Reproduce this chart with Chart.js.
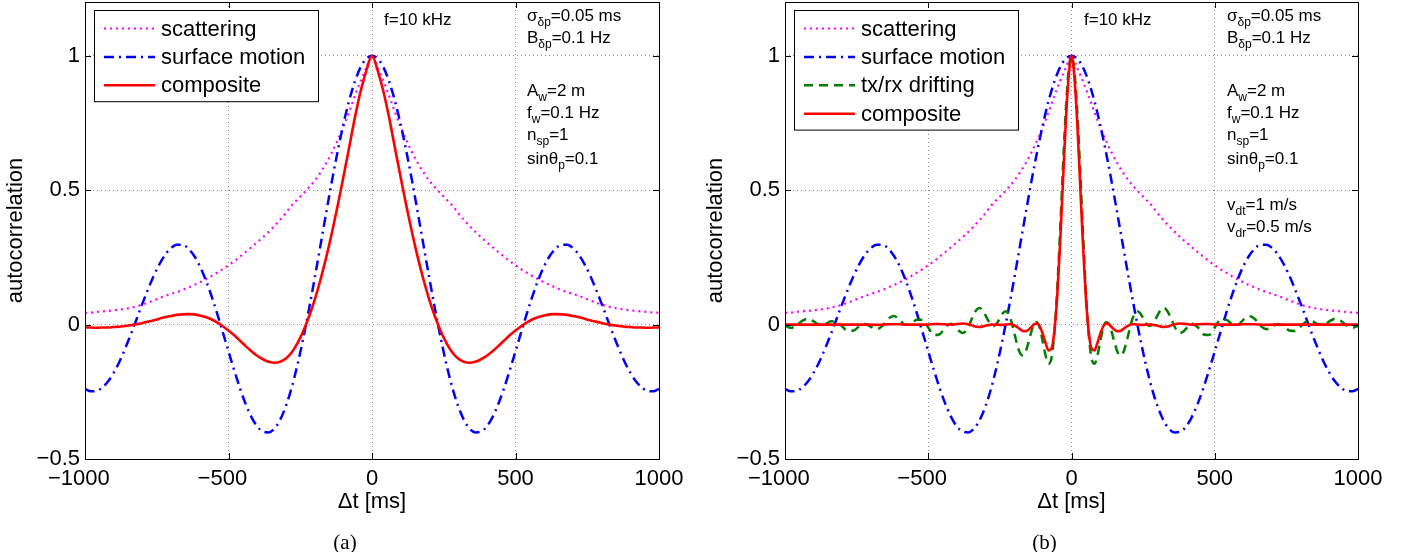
<!DOCTYPE html>
<html>
<head>
<meta charset="utf-8">
<script src="https://cdn.jsdelivr.net/npm/chart.js@4.4.1/dist/chart.umd.min.js"></script>
<style>
  html, body { margin: 0; padding: 0; background: #fff; }
  #wrap { position: relative; width: 1408px; height: 552px; }
  .panel { position: absolute; top: 0; width: 704px; height: 552px; }
</style>
</head>
<body>
<div id="wrap">
  <div class="panel" style="left:0"><canvas id="chartA" width="704" height="552"></canvas></div>
  <div class="panel" style="left:704px"><canvas id="chartB" width="704" height="552"></canvas></div>
</div>
<script>
// time lags [ms], 20 ms steps
const timeA = [-1000,-980,-960,-940,-920,-900,-880,-860,-840,-820,-800,-780,-760,-740,-720,-700,-680,-660,-640,-620,
  -600,-580,-560,-540,-520,-500,-480,-460,-440,-420,-400,-380,-360,-340,-320,-300,-280,-260,-240,-220,
  -200,-180,-160,-140,-120,-100,-80,-60,-40,-20,0,20,40,60,80,100,120,140,160,180,
  200,220,240,260,280,300,320,340,360,380,400,420,440,460,480,500,520,540,560,580,
  600,620,640,660,680,700,720,740,760,780,800,820,840,860,880,900,920,940,960,980,1000];

const scattering = [0.044,0.045,0.047,0.049,0.051,0.053,0.056,0.059,0.063,0.068,0.074,0.082,0.090,0.099,0.107,0.114,0.121,0.129,0.138,0.147,
  0.157,0.168,0.180,0.193,0.206,0.221,0.236,0.253,0.270,0.288,0.306,0.325,0.345,0.367,0.390,0.415,0.443,0.465,0.487,0.510,
  0.535,0.565,0.600,0.640,0.685,0.735,0.790,0.850,0.905,0.955,1.000,0.955,0.905,0.850,0.790,0.735,0.685,0.640,0.600,0.565,
  0.535,0.510,0.487,0.465,0.443,0.415,0.390,0.367,0.345,0.325,0.306,0.288,0.270,0.253,0.236,0.221,0.206,0.193,0.180,0.168,
  0.157,0.147,0.138,0.129,0.121,0.114,0.107,0.099,0.090,0.082,0.074,0.068,0.063,0.059,0.056,0.053,0.051,0.049,0.047,0.045,0.044];

const surfaceMotion = [-0.239,-0.248,-0.247,-0.234,-0.212,-0.179,-0.138,-0.089,-0.036,0.021,0.078,0.132,0.183,0.226,0.261,0.285,0.297,0.297,0.283,0.256,
  0.218,0.168,0.109,0.043,-0.028,-0.100,-0.170,-0.237,-0.296,-0.344,-0.379,-0.398,-0.401,-0.387,-0.354,-0.303,-0.235,-0.151,-0.053,0.055,
  0.171,0.292,0.413,0.532,0.643,0.744,0.832,0.903,0.957,0.989,1.000,0.989,0.957,0.903,0.832,0.744,0.643,0.532,0.413,0.292,
  0.171,0.055,-0.053,-0.151,-0.235,-0.303,-0.354,-0.387,-0.401,-0.398,-0.379,-0.344,-0.296,-0.237,-0.170,-0.100,-0.028,0.043,0.109,0.168,
  0.218,0.256,0.283,0.297,0.297,0.285,0.261,0.226,0.183,0.132,0.078,0.021,-0.036,-0.089,-0.138,-0.179,-0.212,-0.234,-0.247,-0.248,-0.239];

const compositeA = [-0.011,-0.011,-0.012,-0.011,-0.011,-0.009,-0.008,-0.005,-0.002,0.001,0.006,0.011,0.016,0.022,0.028,0.032,0.036,0.038,0.039,0.038,
  0.034,0.028,0.020,0.008,-0.006,-0.022,-0.040,-0.060,-0.080,-0.099,-0.116,-0.129,-0.138,-0.142,-0.138,-0.126,-0.104,-0.070,-0.026,0.028,
  0.091,0.165,0.248,0.340,0.440,0.547,0.657,0.768,0.866,0.944,1.000,0.944,0.866,0.768,0.657,0.547,0.440,0.340,0.248,0.165,
  0.091,0.028,-0.026,-0.070,-0.104,-0.126,-0.138,-0.142,-0.138,-0.129,-0.116,-0.099,-0.080,-0.060,-0.040,-0.022,-0.006,0.008,0.020,0.028,
  0.034,0.038,0.039,0.038,0.036,0.032,0.028,0.022,0.016,0.011,0.006,0.001,-0.002,-0.005,-0.008,-0.009,-0.011,-0.011,-0.012,-0.011,-0.011];

// finer lags for the fast curves of panel (b): 20 ms outside, 10 ms within +-400
const timeB = [-1000,-980,-960,-940,-920,-900,-880,-860,-840,-820,-800,-780,-760,-740,-720,-700,-680,-660,-640,-620,
  -600,-580,-560,-540,-520,-500,-480,-460,-440,-420,
  -400,-390,-380,-370,-360,-350,-340,-330,-320,-310,-300,-290,-280,-270,-260,-250,-240,-230,-220,-210,
  -200,-190,-180,-170,-160,-150,-140,-130,-120,-110,-100,-90,-80,-70,-60,-50,-40,-30,-20,-10,0,
  10,20,30,40,50,60,70,80,90,100,110,120,130,140,150,160,170,180,190,200,
  210,220,230,240,250,260,270,280,290,300,310,320,330,340,350,360,370,380,390,400,
  420,440,460,480,500,520,540,560,580,600,620,640,660,680,700,720,740,760,780,800,
  820,840,860,880,900,920,940,960,980,1000];

const drifting = [-0.005,-0.012,-0.003,0.014,0.022,0.012,0.000,0.001,0.012,0.011,-0.007,-0.024,-0.022,-0.006,0.002,-0.008,-0.017,-0.005,0.021,0.032,
  0.018,-0.001,0.002,0.018,0.018,-0.011,-0.039,-0.036,-0.009,0.003,
  -0.015,-0.026,-0.031,-0.025,-0.008,0.016,0.040,0.057,0.062,0.053,0.034,0.014,-0.002,-0.005,0.005,0.024,0.042,0.050,0.041,0.012,
  -0.030,-0.073,-0.105,-0.115,-0.100,-0.066,-0.026,0.004,0.009,-0.016,-0.065,-0.117,-0.146,-0.125,-0.034,0.127,0.344,0.581,0.796,0.946,1.000,
  0.946,0.796,0.581,0.344,0.127,-0.034,-0.125,-0.146,-0.117,-0.065,-0.016,0.009,0.004,-0.026,-0.066,-0.100,-0.115,-0.105,-0.073,-0.030,
  0.012,0.041,0.050,0.042,0.024,0.005,-0.005,-0.002,0.014,0.034,0.053,0.062,0.057,0.040,0.016,-0.008,-0.025,-0.031,-0.026,-0.015,
  0.003,-0.009,-0.036,-0.039,-0.011,0.018,0.018,0.002,-0.001,0.018,0.032,0.021,-0.005,-0.017,-0.008,0.002,-0.006,-0.022,-0.024,-0.007,
  0.011,0.012,0.001,0.000,0.012,0.022,0.014,-0.003,-0.012,-0.005];

const compositeB = [0,0,0,0,0,0,0,0,0,0,0,0,0,0,0,0,-0.001,0,0.001,0.001,
  0.001,0,0,0,0,0,0.002,0.002,0.001,0,
  0.002,0.003,0.004,0.003,0.001,-0.002,-0.006,-0.008,-0.009,-0.007,-0.004,-0.002,0,0,0,-0.001,-0.001,0,0.001,0.001,
  -0.003,-0.009,-0.017,-0.024,-0.025,-0.019,-0.009,0.002,0.004,-0.008,-0.036,-0.070,-0.096,-0.089,-0.026,0.104,0.298,0.527,0.752,0.922,1.000,
  0.922,0.752,0.527,0.298,0.104,-0.026,-0.089,-0.096,-0.070,-0.036,-0.008,0.004,0.002,-0.009,-0.019,-0.025,-0.024,-0.017,-0.009,-0.003,
  0.001,0.001,0,-0.001,-0.001,0,0,0,-0.002,-0.004,-0.007,-0.009,-0.008,-0.006,-0.002,0.001,0.003,0.004,0.003,0.002,
  0,0.001,0.002,0.002,0,0,0,0,0,0.001,0.001,0.001,0,-0.001,0,0,0,0,0,0,
  0,0,0,0,0,0,0,0,0,0];

const xTicks = [-1000, -500, 0, 500, 1000];
const yTicks = [-0.5, 0, 0.5, 1];

const SANS = "'Liberation Sans', Arial, Helvetica, sans-serif";
const SERIF = "'Liberation Serif', 'Times New Roman', serif";

const styles = {
  scattering: { label: 'scattering', color: '#ff00ff', dash: [2, 4], width: 2.2 },
  surface: { label: 'surface motion', color: '#0000ff', dash: [10, 5, 2, 5], width: 2.5 },
  drifting: { label: 'tx/rx drifting', color: '#008000', dash: [9, 6], width: 2.5 },
  composite: { label: 'composite', color: '#ff0000', dash: [], width: 2.6 }
};

function series(xs, ys, st, order) {
  return {
    label: st.label,
    data: xs.map((x, i) => ({ x: x, y: ys[i] })),
    borderColor: st.color,
    borderDash: st.dash,
    borderWidth: st.width,
    order: order,
    fill: false,
    pointRadius: 0,
    cubicInterpolationMode: 'monotone'
  };
}

function fmt(v) {
  const s = String(Math.abs(v));
  return v < 0 ? '\u2212' + s : s;
}

function drawParts(ctx, x, y, parts) {
  let cx = x;
  parts.forEach(p => {
    const sub = p[1];
    ctx.font = sub ? '12px ' + SANS : '17px ' + SANS;
    ctx.fillText(p[0], cx, sub ? y + 7 : y);
    cx += ctx.measureText(p[0]).width;
  });
}

const decorPlugin = {
  id: 'decor',
  afterDatasetsDraw(chart, args, opts) {
    const ctx = chart.ctx;
    const a = chart.chartArea;
    const xs = chart.scales.x, ys = chart.scales.y;
    ctx.save();
    ctx.strokeStyle = '#000';
    ctx.lineWidth = 1;
    ctx.setLineDash([]);
    // inward tick marks
    ctx.beginPath();
    xTicks.forEach(v => {
      const px = Math.round(xs.getPixelForValue(v)) + 0.5;
      ctx.moveTo(px, a.bottom); ctx.lineTo(px, a.bottom - 6);
      ctx.moveTo(px, a.top); ctx.lineTo(px, a.top + 6);
    });
    yTicks.forEach(v => {
      const py = Math.round(ys.getPixelForValue(v)) + 0.5;
      ctx.moveTo(a.left, py); ctx.lineTo(a.left + 6, py);
      ctx.moveTo(a.right, py); ctx.lineTo(a.right - 6, py);
    });
    ctx.stroke();
    ctx.strokeRect(Math.round(a.left) + 0.5, Math.round(a.top) + 0.5,
      Math.round(a.right - a.left), Math.round(a.bottom - a.top));

    // legend box
    const rows = opts.legend;
    const bx = Math.round(a.left + 9) + 0.5, by = 10.5;
    const bh = 6 + rows.length * 28.4;
    ctx.fillStyle = '#fff';
    ctx.fillRect(bx, by, 224, bh);
    ctx.strokeRect(bx, by, 224, bh);
    ctx.textBaseline = 'middle';
    ctx.textAlign = 'left';
    rows.forEach((st, i) => {
      const ry = 28.5 + i * 28.4;
      ctx.beginPath();
      ctx.strokeStyle = st.color;
      ctx.lineWidth = st.width;
      ctx.setLineDash(st.dash);
      ctx.moveTo(a.left + 19, ry);
      ctx.lineTo(a.left + 70, ry);
      ctx.stroke();
      ctx.fillStyle = '#000';
      ctx.font = '22px ' + SANS;
      ctx.fillText(st.label, a.left + 76, ry + 1);
    });
    ctx.setLineDash([]);

    // parameter notes
    ctx.fillStyle = '#000';
    opts.notes.forEach(n => drawParts(ctx, a.left + n.dx, n.y, n.parts));

    // axis titles and panel label
    ctx.textAlign = 'center';
    ctx.font = '22px ' + SANS;
    ctx.fillText('\u0394t [ms]', (a.left + a.right) / 2, 502);
    ctx.save();
    ctx.translate(opts.yTitleX, (a.top + a.bottom) / 2);
    ctx.rotate(-Math.PI / 2);
    ctx.fillText('autocorrelation', 0, 0);
    ctx.restore();
    ctx.font = '21px ' + SERIF;
    ctx.fillText(opts.panel, (a.left + a.right) / 2 - 27, 543);
    ctx.restore();
  }
};

const notesCommon = [
  { dx: 299, y: 20, parts: [['f=10 kHz']] },
  { dx: 442, y: 16, parts: [['\u03c3'], ['\u03b4p', 1], ['=0.05 ms']] },
  { dx: 442, y: 38, parts: [['B'], ['\u03b4p', 1], ['=0.1 Hz']] },
  { dx: 442, y: 91, parts: [['A'], ['w', 1], ['=2 m']] },
  { dx: 442, y: 113, parts: [['f'], ['w', 1], ['=0.1 Hz']] },
  { dx: 442, y: 135, parts: [['n'], ['sp', 1], ['=1']] },
  { dx: 442, y: 159, parts: [['sin\u03b8'], ['p', 1], ['=0.1']] }
];
const notesDrift = [
  { dx: 442, y: 205, parts: [['v'], ['dt', 1], ['=1 m/s']] },
  { dx: 442, y: 227, parts: [['v'], ['dr', 1], ['=0.5 m/s']] }
];

function makeOptions(yWidth, rightPad, decor) {
  const tickFont = { family: SANS, size: 22 };
  return {
    responsive: false,
    animation: false,
    devicePixelRatio: 1,
    layout: { padding: { top: 2, right: rightPad, bottom: 0, left: 0 } },
    plugins: { legend: { display: false }, tooltip: { enabled: false }, decor: decor },
    scales: {
      x: {
        type: 'linear', min: -1000, max: 1000,
        afterBuildTicks: s => { s.ticks = xTicks.map(v => ({ value: v })); },
        afterFit: s => { s.height = 93; s.paddingLeft = 0; s.paddingRight = 0; },
        grid: { color: '#8a8a8a', lineWidth: 1, drawTicks: false },
        border: { display: false, dash: [1, 3] },
        ticks: {
          padding: 7, color: '#000', font: tickFont, maxRotation: 0, autoSkip: false,
          callback: v => v < 0 ? fmt(v) + '  ' : fmt(v)
        }
      },
      y: {
        type: 'linear', min: -0.5, max: 1.2,
        afterBuildTicks: s => { s.ticks = yTicks.map(v => ({ value: v })); },
        afterFit: s => { s.width = yWidth; s.paddingTop = 0; s.paddingBottom = 0; },
        grid: { color: '#8a8a8a', lineWidth: 1, drawTicks: false },
        border: { display: false, dash: [1, 3] },
        ticks: { padding: 5, color: '#000', font: tickFont, callback: v => fmt(v) }
      }
    }
  };
}

new Chart(document.getElementById('chartA'), {
  type: 'line',
  data: {
    datasets: [
      series(timeA, compositeA, styles.composite, 0),
      series(timeA, surfaceMotion, styles.surface, 1),
      series(timeA, scattering, styles.scattering, 2)
    ]
  },
  options: makeOptions(85, 45, {
    legend: [styles.scattering, styles.surface, styles.composite],
    notes: notesCommon,
    yTitleX: 16,
    panel: '(a)'
  }),
  plugins: [decorPlugin]
});

new Chart(document.getElementById('chartB'), {
  type: 'line',
  data: {
    datasets: [
      series(timeB, compositeB, styles.composite, 0),
      series(timeB, drifting, styles.drifting, 1),
      series(timeA, surfaceMotion, styles.surface, 2),
      series(timeA, scattering, styles.scattering, 3)
    ]
  },
  options: makeOptions(81, 50, {
    legend: [styles.scattering, styles.surface, styles.drifting, styles.composite],
    notes: notesCommon.concat(notesDrift),
    yTitleX: 12,
    panel: '(b)'
  }),
  plugins: [decorPlugin]
});
</script>
</body>
</html>
